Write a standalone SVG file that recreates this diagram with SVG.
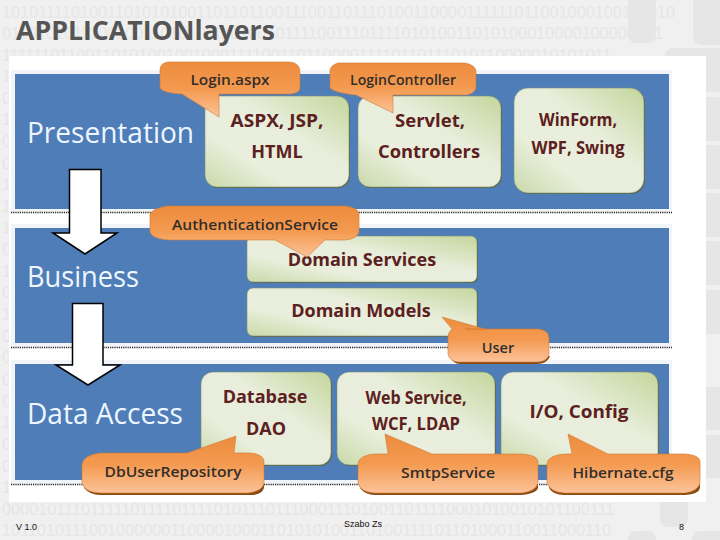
<svg xmlns="http://www.w3.org/2000/svg" width="720" height="540" viewBox="0 0 720 540">
<style>
.bin{font:16.3px "Liberation Sans",Arial,sans-serif;fill:#e6e6e6}
.deco{fill:#e6e6e6}
.band{fill:#4e7db8}
.halo{fill:#f1f4f8}
.dots{stroke:#222;stroke-width:1.3;stroke-dasharray:1.2 1;fill:none}
.green{fill:url(#g);stroke:#7f8f72;stroke-width:.6}
.gs{fill:#56654a}
.co{fill:url(#o);stroke:#d07a33;stroke-width:.6}
.cs{fill:#8a4a14}
.t{font:bold 18px "Open Sans","Liberation Sans",sans-serif;fill:#5c2020;text-anchor:middle}
.c{font:600 14.5px "Open Sans","Liberation Sans",sans-serif;fill:#332e2a;text-anchor:middle}
.l{font:29px "Open Sans","Liberation Sans",sans-serif;fill:#eef6ff}
.f{font:9px "Liberation Sans",Arial,sans-serif;fill:#111}
.arrow{fill:#fff;stroke:#000;stroke-width:1.5}
</style>
<defs>
<linearGradient id="g" x1="0" y1="1" x2="1" y2="0"><stop offset="0" stop-color="#c9d9aa"/><stop offset=".3" stop-color="#e9efdc"/><stop offset=".6" stop-color="#e8eedb"/><stop offset="1" stop-color="#c4d69c"/></linearGradient>
<linearGradient id="o" x1="0" y1="0" x2="0" y2="1"><stop offset="0" stop-color="#ec8c3e"/><stop offset=".5" stop-color="#f49a50"/><stop offset="1" stop-color="#fcc39a"/></linearGradient>
</defs>
<rect width="720" height="540" fill="#f0f0f0"/>
<g class="deco">
<rect x="628" y="-10" width="28" height="53" rx="8"/><rect x="693" y="-10" width="40" height="55" rx="8"/><rect x="665" y="48" width="50" height="40" rx="8"/><rect x="692" y="48" width="40" height="44" rx="8"/><rect x="692" y="97" width="40" height="44" rx="8"/><rect x="692" y="145" width="40" height="44" rx="8"/><rect x="692" y="193" width="40" height="44" rx="8"/><rect x="692" y="241" width="40" height="44" rx="8"/><rect x="692" y="290" width="40" height="44" rx="8"/><rect x="692" y="387" width="40" height="43" rx="8"/><rect x="692" y="435" width="40" height="43" rx="8"/><rect x="660" y="490" width="28" height="37" rx="8"/><rect x="692" y="531" width="40" height="30" rx="8"/><rect x="628" y="531" width="28" height="30" rx="8"/>
</g>
<g class="bin">
<text x="2" y="18">10101111010011010101001101101100111001101110100110000111111011001000100110010</text>
<text x="2" y="39">011010101110010011010101110100101111001110111101010011010100010000100000001</text>
<text x="2" y="61">1111110110011010100100100011110011011000011110110111010110000010101011</text>
<text x="2" y="82">1</text><text x="2" y="104">0</text><text x="2" y="125">1</text><text x="2" y="147">0</text><text x="2" y="169">0</text><text x="2" y="190">1</text><text x="2" y="212">1</text><text x="2" y="233">1</text><text x="2" y="255">0</text><text x="2" y="277">1</text><text x="2" y="298">0</text><text x="2" y="320">1</text><text x="2" y="342">0</text><text x="2" y="363">0</text><text x="2" y="385">0</text><text x="2" y="407">0</text><text x="2" y="428">1</text><text x="2" y="450">0</text><text x="2" y="472">0</text><text x="2" y="493">1</text>
<text x="2" y="515">00001011101111101111011110101110111000111010011011110001010010101100111</text>
<text x="2" y="536">101101011100100000011000010001101010100110100111101101000110011000110</text>
</g>
<rect x="9" y="56" width="697" height="446" fill="#fff"/>
<text x="16" y="40" font-family="'Open Sans','Liberation Sans',sans-serif" font-weight="700" font-size="26" fill="#555" textLength="259" lengthAdjust="spacingAndGlyphs">APPLICATIONlayers</text>
<rect class="halo" x="11" y="70" width="661" height="142"/><rect class="halo" x="11" y="224" width="661" height="123"/><rect class="halo" x="11" y="360" width="661" height="124"/>
<rect class="band" x="15" y="74" width="654" height="135"/><rect class="band" x="15" y="228" width="654" height="115"/><rect class="band" x="15" y="364" width="654" height="116"/>
<path class="dots" d="M11 212.500H672M11 347.500H672M11 484.500H672"/>
<g id="layer-labels">
<text class="l" x="27" y="143" textLength="167" lengthAdjust="spacingAndGlyphs">Presentation</text>
<text class="l" x="27" y="287" textLength="112" lengthAdjust="spacingAndGlyphs">Business</text>
<text class="l" x="27" y="424" textLength="156" lengthAdjust="spacingAndGlyphs">Data Access</text>
</g>
<g id="connectors">
<path class="arrow" d="M69.500 169.500H101V233H117L85 254L53 233H69.500Z"/>
<path class="arrow" d="M72.500 303.500H103V365H120L88 385L56 365H72.500Z"/>
</g>
<g id="node-aspx"><rect class="gs" x="206" y="97" width="144" height="91" rx="12"/><rect class="green" x="205" y="96" width="144" height="91" rx="12"/><text class="t" x="277" y="127" textLength="93" lengthAdjust="spacingAndGlyphs">ASPX, JSP,</text><text class="t" x="277" y="158">HTML</text></g>
<g id="node-servlet"><rect class="gs" x="359" y="97" width="143" height="91" rx="12"/><rect class="green" x="358" y="96" width="143" height="91" rx="12"/><text class="t" x="430" y="127" textLength="70" lengthAdjust="spacingAndGlyphs">Servlet,</text><text class="t" x="429" y="158" textLength="102" lengthAdjust="spacingAndGlyphs">Controllers</text></g>
<g id="node-winform"><rect class="gs" x="515" y="89" width="130" height="105" rx="14"/><rect class="green" x="514" y="88" width="130" height="105" rx="14"/><text class="t" x="578" y="126" textLength="78" lengthAdjust="spacingAndGlyphs">WinForm,</text><text class="t" x="578" y="154" textLength="93" lengthAdjust="spacingAndGlyphs">WPF, Swing</text></g>
<g id="node-domain-services"><rect class="gs" x="248" y="237" width="230" height="46" rx="6"/><rect class="green" x="247" y="236" width="230" height="46" rx="6"/><text class="t" x="362" y="266">Domain Services</text></g>
<g id="node-domain-models"><rect class="gs" x="248" y="289" width="230" height="48" rx="6"/><rect class="green" x="247" y="288" width="230" height="48" rx="6"/><text class="t" x="361" y="317">Domain Models</text></g>
<g id="node-database"><rect class="gs" x="202" y="373" width="130" height="93" rx="12"/><rect class="green" x="201" y="372" width="130" height="93" rx="12"/><text class="t" x="265" y="403">Database</text><text class="t" x="266" y="435">DAO</text></g>
<g id="node-webservice"><rect class="gs" x="338" y="373" width="158" height="93" rx="12"/><rect class="green" x="337" y="372" width="158" height="93" rx="12"/><text class="t" x="416" y="404" textLength="101" lengthAdjust="spacingAndGlyphs">Web Service,</text><text class="t" x="416" y="430" textLength="88" lengthAdjust="spacingAndGlyphs">WCF, LDAP</text></g>
<g id="node-io"><rect class="gs" x="502" y="373" width="157" height="93" rx="12"/><rect class="green" x="501" y="372" width="157" height="93" rx="12"/><text class="t" x="579" y="418" textLength="99" lengthAdjust="spacingAndGlyphs">I/O, Config</text></g>
<g id="callout-login-aspx"><path class="co" d="M168 62H290Q300 63 300 72V88Q300 93 290 94H219V117L182 94Q163 93 160 88V70Q160 63 168 62Z"/><text class="c" x="230" y="85" textLength="79" lengthAdjust="spacingAndGlyphs">Login.aspx</text></g>
<g id="callout-login-controller"><path class="co" d="M338 63H465Q476 65 476 72V88Q474 94 466 95H393V113L356 95Q335 93 330 88V70Q331 65 338 63Z"/><text class="c" x="403" y="85" textLength="106" lengthAdjust="spacingAndGlyphs">LoginController</text></g>
<g id="callout-auth"><path class="co" d="M168 206H345Q359 208 359 214V232Q357 239 345 240H325L307 257L275 240H170Q152 239 150 232V214Q153 208 168 206Z"/><text class="c" x="255" y="230" textLength="166" lengthAdjust="spacingAndGlyphs">AuthenticationService</text></g>
<g id="callout-user"><path class="cs" d="M450 356Q453 364 460 364H538Q548 363 550 356Z"/><path class="co" d="M465 329H538Q549 330 549 338V354Q548 361 538 362H458Q449 361 448 354V338Q448 332 452 329L442 317L485 329Z"/><text class="c" x="498" y="353">User</text></g>
<g id="callout-db-user"><path class="cs" d="M84 488Q90 495 100 495H250Q262 495 264 488V484H84Z"/><path class="co" d="M100 453H187L236 436L234 453H250Q264 454 264 462V483Q263 491 248 493H100Q84 492 82 483V465Q83 455 100 453Z"/><text class="c" x="173" y="477" font-size="16" textLength="137" lengthAdjust="spacingAndGlyphs">DbUserRepository</text></g>
<g id="callout-smtp"><path class="cs" d="M360 488Q365 495 375 495H520Q536 494 538 488V484H360Z"/><path class="co" d="M375 454H388L385 434L432 454H522Q538 455 538 462V483Q536 491 522 493H375Q360 492 358 483V463Q360 455 375 454Z"/><text class="c" x="448" y="478" textLength="94" lengthAdjust="spacingAndGlyphs">SmtpService</text></g>
<g id="callout-hibernate"><path class="cs" d="M549 488Q553 495 564 495H685Q699 494 700 488V484H549Z"/><path class="co" d="M565 454H572L568 434L608 454H685Q700 455 700 462V483Q698 491 685 493H564Q550 492 547 483V463Q549 455 565 454Z"/><text class="c" x="623" y="478" textLength="101" lengthAdjust="spacingAndGlyphs">Hibernate.cfg</text></g>
<g id="footer"><text class="f" x="16" y="530">V 1.0</text><text class="f" x="344" y="527">Szabo Zs</text><text class="f" x="679" y="530">8</text></g>
</svg>
